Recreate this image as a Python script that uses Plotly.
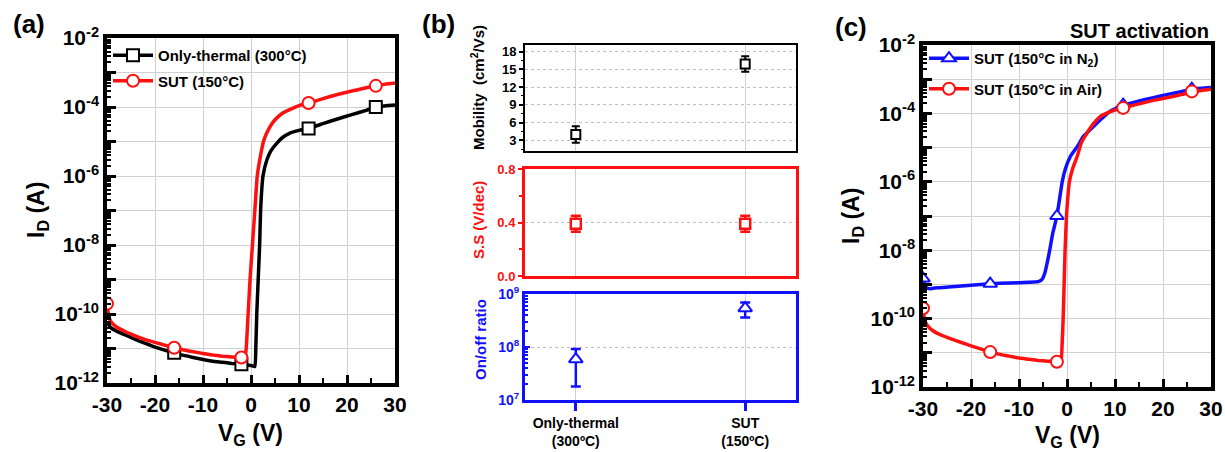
import plotly.graph_objects as go

# ---------------- Panel (a) data ----------------
a_vg_thermal = [-30, -29.5, -29, -28, -26, -24, -22, -20, -18, -16, -14, -12, -10, -8, -6, -4, -2, 0, 0.8,
                1.0, 1.2, 1.5, 1.8, 2.0, 2.5, 3.3, 4.2, 5.4, 6.7, 8.1, 10, 12, 15, 18, 21, 24, 26, 28, 30]
a_id_thermal = [6e-11, 4.5e-11, 3.8e-11, 3.2e-11, 2.4e-11, 1.8e-11, 1.4e-11, 1.1e-11, 9e-12, 7.5e-12, 6.3e-12,
                5.5e-12, 4.8e-12, 4.3e-12, 4.0e-12, 3.7e-12, 3.5e-12, 3.2e-12, 3.0e-12,
                1e-11, 1e-10, 1e-9, 1e-8, 1e-7, 1e-6, 2.9e-6, 5.5e-6, 9e-6, 1.35e-5, 1.75e-5, 2.1e-5, 2.4e-5,
                3.3e-5, 4.5e-5, 6e-5, 8e-5, 1e-4, 1.08e-4, 1.15e-4]
a_vg_sut = [-30, -29.8, -29.5, -29, -28, -26, -24, -22, -20, -18, -16, -14, -12, -10, -8, -6, -4, -2, -1.3,
            -1.0, -0.6, -0.2, 0.3, 0.8, 1.3, 2.0, 2.6, 3.3, 4.5, 5.5, 6.7, 8.5, 10, 12, 15, 18, 21, 24, 26, 28, 30]
a_id_sut = [2e-10, 1.2e-10, 7.5e-11, 5.5e-11, 4.2e-11, 3e-11, 2.3e-11, 1.8e-11, 1.5e-11, 1.25e-11, 1.05e-11,
            9e-12, 8e-12, 7.2e-12, 6.5e-12, 6e-12, 5.7e-12, 5.5e-12, 5.3e-12,
            1e-11, 1e-10, 1e-9, 1e-8, 1e-7, 1e-6, 4e-6, 1e-5, 1.8e-5, 3.5e-5, 5e-5, 6.8e-5, 9e-5, 1.1e-4,
            1.3e-4, 1.75e-4, 2.3e-4, 2.9e-4, 3.6e-4, 4.1e-4, 4.6e-4, 5e-4]
a_mk_vg_thermal = [-16, -2, 12, 26]
a_mk_id_thermal = [7.5e-12, 3.5e-12, 2.4e-5, 1e-4]
a_mk_vg_sut = [-30, -16, -2, 12, 26]
a_mk_id_sut = [2e-10, 1.05e-11, 5.5e-12, 1.3e-4, 4.1e-4]

# ---------------- Panel (b) data ----------------
b_categories = ["Only-thermal<br>(300ºC)", "SUT<br>(150ºC)"]
b_mobility = [4.0, 15.9]
b_mobility_err = [1.4, 1.3]
b_ss = [0.39, 0.39]
b_ss_err = [0.06, 0.06]
b_onoff = [5.9e7, 5.4e8]
b_onoff_err_plus = [3.3e7, 1.5e8]
b_onoff_err_minus = [4.1e7, 1.8e8]

# ---------------- Panel (c) data ----------------
c_vg_n2 = [-30, -29.7, -29.3, -28.5, -27, -24, -20, -16, -12, -8, -6, -5.2, -4.6, -4.1, -3.6, -3.0, -2.1,
           -1.5, -1.0, -0.3, 0.7, 2.1, 3.5, 5.4, 7.2, 9, 11.7, 15, 18, 21, 24, 26, 28, 30]
c_id_n2 = [1.5e-9, 1.0e-9, 8e-10, 7.5e-10, 8e-10, 8.5e-10, 9.5e-10, 1.05e-9, 1.1e-9, 1.15e-9, 1.2e-9, 1.4e-9,
           2.2e-9, 4.5e-9, 1e-8, 3e-8, 1e-7, 3.5e-7, 1e-6, 2.5e-6, 5.5e-6, 1.05e-5, 2.2e-5, 4e-5, 7e-5,
           1.15e-4, 1.75e-4, 2.3e-4, 2.9e-4, 3.6e-4, 4.4e-4, 5e-4, 5.4e-4, 5.7e-4]
c_vg_air = [-30, -29.8, -29.5, -29, -28, -26, -24, -22, -20, -18, -16, -14, -12, -10, -8, -6, -4, -2.1,
            -1.3, -1.0, -0.8, -0.6, -0.4, -0.1, 0.5, 1.2, 2.1, 3.0, 4.2, 5.5, 6.9, 8.5, 10, 11.7, 15, 18,
            21, 24, 26, 28, 30]
c_id_air = [2e-10, 1.2e-10, 8e-11, 6e-11, 4.5e-11, 3.2e-11, 2.5e-11, 2e-11, 1.6e-11, 1.3e-11, 1.05e-11,
            9e-12, 8e-12, 7e-12, 6.5e-12, 6e-12, 5.7e-12, 5.5e-12, 5.3e-12, 2e-11, 1e-10, 1e-9, 1e-8, 1e-7,
            1e-6, 2.5e-6, 5.4e-6, 1.4e-5, 2.7e-5, 5e-5, 8e-5, 1.05e-4, 1.25e-4, 1.45e-4, 1.9e-4, 2.4e-4,
            2.9e-4, 3.6e-4, 4.2e-4, 4.7e-4, 5.1e-4]
c_mk_vg_n2 = [-30, -16, -2.1, 11.7, 26]
c_mk_id_n2 = [1.5e-9, 1.05e-9, 1e-7, 1.8e-4, 5.3e-4]
c_mk_vg_air = [-30, -16, -2.1, 11.7, 26]
c_mk_id_air = [2e-10, 1.05e-11, 5.5e-12, 1.45e-4, 4.4e-4]

# tick labels
vg_tickvals = [-30, -20, -10, 0, 10, 20, 30]
vg_ticktext = ["-30", "-20", "-10", "0", "10", "20", "30"]
id_label_exps = [-12, -10, -8, -6, -4, -2]
id_other_exps = [-11, -9, -7, -5, -3]
id_tickvals = [10.0 ** e for e in id_label_exps]
id_ticktext = ["10<sup>%d</sup>" % e for e in id_label_exps]
id_minor_vals = [10.0 ** e for e in id_other_exps]

W, H = 1225, 452
F = "Liberation Sans, Arial, sans-serif"
RED = "#ff1010"
BLUE = "#1010ff"
GRID = "#d0d0d0"


def px(x):
    return x / W


def py(y):
    return 1 - y / H


fig = go.Figure()


def add_curve(xs, ys, mx, my, color, symbol, name, xa, ya, legend):
    fig.add_trace(go.Scatter(x=xs, y=ys, mode="lines", line=dict(color=color, width=3.5, shape="spline",
                                                                   smoothing=0.4),
                             showlegend=False, xaxis=xa, yaxis=ya, hoverinfo="skip"))
    fig.add_trace(go.Scatter(x=mx, y=my, mode="markers",
                             marker=dict(symbol=symbol, size=12, color="white",
                                         line=dict(color=color, width=2)),
                             showlegend=False, xaxis=xa, yaxis=ya))
    fig.add_trace(go.Scatter(x=[None], y=[None], mode="lines+markers", name=name, legendgroup=name,
                             line=dict(color=color, width=3.5),
                             marker=dict(symbol=symbol, size=12, color="white",
                                         line=dict(color=color, width=2)),
                             xaxis=xa, yaxis=ya, legend=legend))


# Panel (a)
add_curve(a_vg_thermal, a_id_thermal, a_mk_vg_thermal, a_mk_id_thermal, "black", "square",
          "Only-thermal (300°C)", "x", "y", "legend")
add_curve(a_vg_sut, a_id_sut, a_mk_vg_sut, a_mk_id_sut, RED, "circle", "SUT (150°C)", "x", "y", "legend")

# Panel (c)
add_curve(c_vg_n2, c_id_n2, c_mk_vg_n2, c_mk_id_n2, BLUE, "triangle-up", "SUT (150°C in N<sub>2</sub>)",
          "x5", "y5", "legend2")
add_curve(c_vg_air, c_id_air, c_mk_vg_air, c_mk_id_air, RED, "circle", "SUT (150°C in Air)",
          "x5", "y5", "legend2")

# Panel (b)
fig.add_trace(go.Scatter(x=b_categories, y=b_mobility, mode="markers", xaxis="x2", yaxis="y2",
                         marker=dict(symbol="square", size=9, color="white", line=dict(color="black", width=2)),
                         error_y=dict(type="data", array=b_mobility_err, color="black", thickness=2, width=4),
                         showlegend=False))
fig.add_trace(go.Scatter(x=b_categories, y=b_ss, mode="markers", xaxis="x3", yaxis="y3",
                         marker=dict(symbol="square", size=10, color="white", line=dict(color=RED, width=2.5)),
                         error_y=dict(type="data", array=b_ss_err, color=RED, thickness=2.5, width=5),
                         showlegend=False))
fig.add_trace(go.Scatter(x=b_categories, y=b_onoff, mode="markers", xaxis="x4", yaxis="y4",
                         marker=dict(symbol="triangle-up", size=12, color="white", line=dict(color=BLUE, width=2)),
                         error_y=dict(type="data", array=b_onoff_err_plus, arrayminus=b_onoff_err_minus,
                                      color=BLUE, thickness=2.5, width=5),
                         showlegend=False))

# invisible traces so the overlay minor-tick axes are drawn
fig.add_trace(go.Scatter(x=[None], y=[None], xaxis="x", yaxis="y6", showlegend=False))
fig.add_trace(go.Scatter(x=[None], y=[None], xaxis="x5", yaxis="y7", showlegend=False))


def iv_xaxis(d0, d1, anchor):
    return dict(domain=[px(d0), px(d1)], anchor=anchor, range=[-30, 30], automargin=False,
                tickmode="array", tickvals=vg_tickvals, ticktext=vg_ticktext,
                ticks="inside", ticklen=8, tickwidth=2.5, tickcolor="black",
                minor=dict(ticks="inside", ticklen=5, tickwidth=2, tickcolor="black", dtick=5, tick0=0,
                           showgrid=False),
                showline=True, linecolor="black", linewidth=3.5, mirror=True,
                showgrid=True, gridcolor=GRID, gridwidth=1, zeroline=False,
                tickfont=dict(family=F, size=21, color="black", weight="bold"))


def iv_yaxis(t, b, anchor):
    return dict(domain=[py(b), py(t)], anchor=anchor, type="log", range=[-12, -2], automargin=False,
                tickmode="array", tickvals=id_tickvals, ticktext=id_ticktext,
                ticks="inside", ticklen=9, tickwidth=2.5, tickcolor="black",
                minor=dict(ticks="inside", ticklen=9, tickwidth=2.5, tickcolor="black", tickvals=id_minor_vals,
                           showgrid=True, gridcolor=GRID, gridwidth=1),
                showline=True, linecolor="black", linewidth=3.5, mirror=True,
                showgrid=True, gridcolor=GRID, gridwidth=1, zeroline=False,
                tickfont=dict(family=F, size=21, color="black", weight="bold"))


def iv_overlay(over, anchor):
    return dict(overlaying=over, anchor=anchor, side="left", type="log", range=[-12, -2], automargin=False,
                dtick="D1", showticklabels=False, ticks="inside", ticklen=4, tickwidth=1.5, tickcolor="black",
                showgrid=False, showline=False, zeroline=False)


bx0, bx1 = 525, 796
cat_range = [-0.3, 1.3]

fig.update_layout(
    template="none",
    width=W, height=H, margin=dict(l=0, r=0, t=0, b=0, pad=0), autosize=False,
    paper_bgcolor="white", plot_bgcolor="white",
    xaxis=iv_xaxis(107, 395, "y"),
    yaxis=iv_yaxis(38, 383, "x"),
    yaxis6=iv_overlay("y", "x"),
    xaxis5=iv_xaxis(923, 1211, "y5"),
    yaxis5=iv_yaxis(45, 387, "x5"),
    yaxis7=iv_overlay("y5", "x5"),
    xaxis2=dict(domain=[px(bx0), px(bx1)], anchor="y2", type="category", range=cat_range, automargin=False,
                showticklabels=False, ticks="", showline=True, linecolor="black", linewidth=2, mirror=True,
                showgrid=True, gridcolor=GRID, gridwidth=1),
    yaxis2=dict(domain=[py(151), py(45)], anchor="x2", range=[1.2, 19.1], tickvals=[3, 6, 9, 12, 15, 18],
                automargin=False,
                ticks="outside", ticklen=4, tickwidth=1.5, tickcolor="black",
                minor=dict(ticks="outside", ticklen=2, tickwidth=1, dtick=1.5, tick0=0, tickcolor="black",
                           showgrid=False),
                showline=True, linecolor="black", linewidth=2, mirror=True,
                showgrid=True, gridcolor="#c0c0c0", griddash="dot", gridwidth=1, zeroline=False,
                tickfont=dict(family=F, size=13, color="black", weight="bold")),
    xaxis3=dict(domain=[px(bx0), px(bx1)], anchor="y3", type="category", range=cat_range, automargin=False,
                showticklabels=False, ticks="", showline=True, linecolor=RED, linewidth=3, mirror=True,
                showgrid=True, gridcolor=GRID, gridwidth=1),
    yaxis3=dict(domain=[py(276), py(169)], anchor="x3", range=[0, 0.8], tickvals=[0, 0.4, 0.8],
                ticktext=["0.0", "0.4", "0.8"], automargin=False,
                ticks="outside", ticklen=4, tickwidth=1.5, tickcolor=RED,
                minor=dict(ticks="outside", ticklen=3, tickwidth=1.5, tickvals=[0.2, 0.6], tickcolor=RED,
                           showgrid=False),
                showline=True, linecolor=RED, linewidth=3, mirror=True,
                showgrid=True, gridcolor="#c0c0c0", griddash="dot", gridwidth=1, zeroline=False,
                tickfont=dict(family=F, size=13, color=RED, weight="bold")),
    xaxis4=dict(domain=[px(bx0), px(bx1)], anchor="y4", type="category", range=cat_range, automargin=False,
                ticks="outside", ticklen=8, tickwidth=3, tickcolor=BLUE,
                showline=True, linecolor=BLUE, linewidth=3, mirror=True,
                showgrid=True, gridcolor=GRID, gridwidth=1,
                tickfont=dict(family=F, size=14, color="black", weight="bold")),
    yaxis4=dict(domain=[py(400), py(294)], anchor="x4", type="log", range=[7, 9], automargin=False,
                tickmode="array", tickvals=[1e7, 1e8, 1e9],
                ticktext=["10<sup>7</sup>", "10<sup>8</sup>", "10<sup>9</sup>"],
                ticks="inside", ticklen=5, tickwidth=2, tickcolor=BLUE,
                minor=dict(ticks="inside", ticklen=3, tickwidth=1.5, dtick="D1", tickcolor=BLUE, showgrid=False),
                showline=True, linecolor=BLUE, linewidth=3, mirror=True,
                showgrid=True, gridcolor="#c0c0c0", griddash="dot", gridwidth=1, zeroline=False,
                tickfont=dict(family=F, size=14, color=BLUE, weight="bold")),
    legend=dict(x=px(108), y=py(39), xanchor="left", yanchor="top", bgcolor="rgba(0,0,0,0)",
                font=dict(family=F, size=15, color="black", weight="bold"), itemwidth=40,
                tracegroupgap=3, borderwidth=0),
    legend2=dict(x=px(924), y=py(42), xanchor="left", yanchor="top", bgcolor="rgba(0,0,0,0)",
                 font=dict(family=F, size=15, color="black", weight="bold"), itemwidth=40,
                 tracegroupgap=8, borderwidth=0),
)

ann = []


def text(x, y, s, size, color="black", angle=0, xanchor="center"):
    ann.append(dict(x=px(x), y=py(y), xref="paper", yref="paper", text=s, showarrow=False,
                    textangle=angle, xanchor=xanchor, yanchor="middle",
                    font=dict(family=F, size=size, color=color, weight="bold")))


text(29, 24, "(a)", 26)
text(438, 24, "(b)", 26)
text(851, 27, "(c)", 26)
text(251, 434, "V<sub>G</sub> (V)", 23)
text(1067, 436, "V<sub>G</sub> (V)", 23)
text(38, 210, "I<sub>D</sub> (A)", 23, angle=-90)
text(852, 216, "I<sub>D</sub> (A)", 23, angle=-90)
text(1211, 31, "SUT activation", 20, xanchor="right")
text(478, 88, "Mobility  (cm<sup>2</sup>/Vs)", 15, angle=-90)
text(478, 220, "S.S (V/dec)", 15, color=RED, angle=-90)
text(480, 340, "On/off ratio", 15, color=BLUE, angle=-90)
fig.update_layout(annotations=ann)

fig.write_html("out.html", config={"displayModeBar": False},
               post_script="document.body.style.margin='0';")
